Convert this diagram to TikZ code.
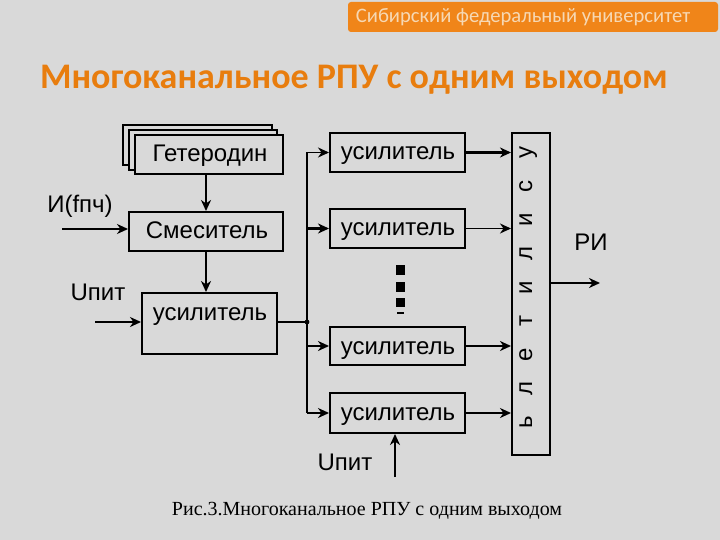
\documentclass[tikz,border=0pt]{standalone}
\usepackage{fontspec}
\setmainfont{Liberation Sans}
\newfontfamily\calib{Carlito}
\newfontfamily\serifcap{Liberation Serif}
\usetikzlibrary{arrows.meta}
\definecolor{bg}{RGB}{217,217,217}
\definecolor{banner}{RGB}{240,133,25}
\definecolor{bannertext}{RGB}{246,216,180}
\definecolor{titlecol}{RGB}{232,125,14}
\tikzset{
  blk/.style={draw=black, line width=2pt, fill=bg, inner sep=0pt},
  wire/.style={line width=2.2pt},
  thinwire/.style={line width=1.3pt},
  arr/.style={-{Stealth[length=11pt,width=10pt,inset=3.5pt]}},
  lbl/.style={font=\fontsize{24}{26}\selectfont, inner sep=0pt, anchor=base},
  vlet/.style={font=\fontsize{24}{26}\selectfont, inner sep=0pt, rotate=90, anchor=base}
}
\begin{document}
\begin{tikzpicture}[x=1pt,y=-1pt]
\useasboundingbox (0,0) rectangle (720,540);
\fill[bg] (0,0) rectangle (720,540);
% banner
\node[fill=banner, rounded corners=3pt, minimum width=370pt, minimum height=30pt, inner sep=0pt] (banner) at (533,17) {};
\node[text=bannertext, font=\calib\fontsize{20.6}{22}\selectfont, inner sep=0pt, anchor=base] (bantext) at (523,23) {Сибирский федеральный университет};
% title
\node[text=titlecol, font=\calib\bfseries\fontsize{36}{40}\selectfont, inner sep=0pt, anchor=base] (title) at (354,89) {Многоканальное РПУ с одним выходом};

% heterodyne stacked boxes
\node[blk, minimum width=149pt, minimum height=40pt] (hetA) at (197.5,145) {};
\node[blk, minimum width=148pt, minimum height=40pt] (hetB) at (203,150) {};
\node[blk, minimum width=148pt, minimum height=39pt] (het) at (209,154.5) {};
\node[lbl] (hettxt) at (210,162) {Гетеродин};

% mixer
\node[blk, minimum width=154pt, minimum height=39pt] (mix) at (206,231.5) {};
\node[lbl] (mixtxt) at (207,239) {Смеситель};

% left amplifier
\node[blk, minimum width=135pt, minimum height=61pt] (ampL) at (209.5,323.5) {};
\node[lbl] (ampLtxt) at (210,320) {усилитель};

% right amplifiers
\node[blk, minimum width=135pt, minimum height=39pt] (amp1) at (397.5,152.5) {};
\node[blk, minimum width=135pt, minimum height=39pt] (amp2) at (397.5,228.5) {};
\node[blk, minimum width=135pt, minimum height=38pt] (amp3) at (397.5,346) {};
\node[blk, minimum width=135pt, minimum height=40pt] (amp4) at (397.5,413) {};
\node[lbl] (t1) at (398,160) {усилитель};
\node[lbl] (t2) at (398,236) {усилитель};
\node[lbl] (t3) at (398,354) {усилитель};
\node[lbl] (t4) at (398,420) {усилитель};

% big combining amplifier
\node[blk, minimum width=38pt, minimum height=322pt] (big) at (531,294) {};
\foreach \ch [count=\i from 0] in {у,с,и,л,и,т,е,л,ь}{
  \node[vlet] (v\i) at (532,{153+33.6*\i}) {\ch};
}

% dots
\fill (396,265) rectangle (405,275);
\fill (396,282) rectangle (405,292);
\fill (396,298) rectangle (405,307);
\fill (397,312.3) rectangle (404,313.8);

% coordinates
\coordinate (inI) at (62,229);
\coordinate (inU) at (95,322);
\coordinate (tap) at (307,322);
\coordinate (busT) at (307,152.5);
\coordinate (busB) at (307,413);
\coordinate (out) at (600,283);
\coordinate (uB) at (395,477);

% connectors
\draw[wire,arr] (mix.north |- het.south) -- (mix.north);
\draw[wire,arr] (mix.south) -- (mix.south |- ampL.north);
\draw[wire,arr] (inI) -- (inI -| mix.west);
\draw[wire,arr] (inU) -- (inU -| ampL.west);
\draw[wire] (ampL.east |- tap) -- (tap);
\fill (tap) circle (2.4pt);
\draw[thinwire] (busT) -- (busB);
\draw[thinwire,arr] (busT) -- (amp1.west);
\draw[wire,arr] (amp2.west -| busT) -- (amp2.west);
\draw[wire,arr] (amp3.west -| busT) -- (amp3.west);
\draw[wire,arr] (busB) -- (amp4.west);
\draw[wire,arr] (amp1.east) -- (amp1.east -| big.west);
\draw[thinwire,arr] (amp2.east) -- (amp2.east -| big.west);
\draw[wire,arr] (amp3.east) -- (amp3.east -| big.west);
\draw[wire,arr] (amp4.east) -- (amp4.east -| big.west);
\draw[wire,arr] (big.east |- out) -- (out);
\draw[wire,arr] (uB) -- (uB |- amp4.south);

% labels
\node[lbl] (lI) at (80,213) {И(fпч)};
\node[lbl] (lU) at (98,300) {Uпит};
\node[lbl] (lRI) at (591,250) {РИ};
\node[lbl] (lU2) at (345,470) {Uпит};

% caption
\node[font=\serifcap\fontsize{20}{22}\selectfont, inner sep=0pt, anchor=base] (cap) at (367,515) {Рис.3.Многоканальное РПУ с одним выходом};
\end{tikzpicture}
\end{document}
